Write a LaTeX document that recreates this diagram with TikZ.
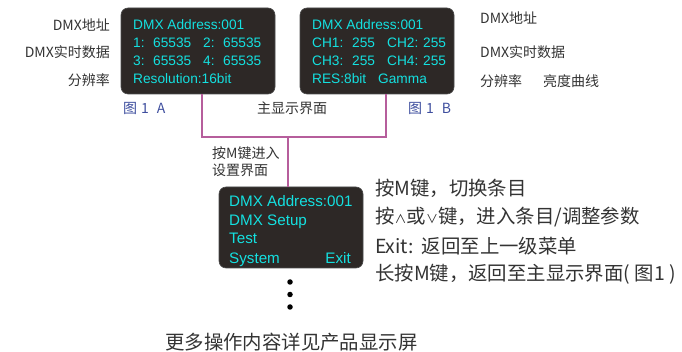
\documentclass[tikz,border=0pt]{standalone}
\usepackage{fontspec}
\setmainfont{Liberation Sans}
\newfontfamily\cjk{Noto Sans CJK SC}
\definecolor{lcd}{HTML}{2D2826}
\definecolor{lcdtext}{HTML}{14E0E0}
\definecolor{pinkline}{HTML}{B65E9C}
\definecolor{labgray}{HTML}{333333}
\definecolor{figblue}{HTML}{3E4E9E}
\newcommand{\smallop}[1]{{\fontsize{12}{12}\selectfont #1}}
\begin{document}
\begin{tikzpicture}[x=1pt,y=-1pt,
  lcdbox/.style={draw=gray!60!black,line width=0.6pt,fill=lcd,rounded corners=7pt,inner sep=0pt},
  lcdA/.style={text=lcdtext,inner sep=0pt,anchor=base west,font=\fontsize{13.7}{14}\selectfont},
  lcdC/.style={text=lcdtext,inner sep=0pt,anchor=base west,font=\fontsize{15.2}{16}\selectfont},
  lab/.style={text=labgray,inner sep=0pt,font=\cjk\fontsize{14}{15}\selectfont},
  figlab/.style={text=figblue,inner sep=0pt,font=\cjk\fontsize{14}{15}\selectfont},
  note/.style={text=labgray,inner sep=0pt,anchor=west,font=\cjk\fontsize{19.4}{20}\selectfont},
  conn/.style={draw=pinkline,line width=1.4pt},
  dot/.style={circle,fill=black,inner sep=0pt,minimum size=5.5pt}]
\useasboundingbox (0,0) rectangle (682,352);

% boxes
\node[lcdbox,minimum width=154pt,minimum height=86pt] (boxA) at (198,51) {};
\node[lcdbox,minimum width=154pt,minimum height=86pt] (boxB) at (377,51) {};
\node[lcdbox,minimum width=144pt,minimum height=81pt] (boxC) at (291,227.5) {};

% box A text
\node[lcdA] (a1) at (133,30) {DMX Address:001};
\node[lcdA] (a2a) at (133,48) {1:};
\node[lcdA] (a2b) at (153,48) {65535};
\node[lcdA] (a2c) at (203,48) {2:};
\node[lcdA] (a2d) at (223,48) {65535};
\node[lcdA] (a3a) at (133,66) {3:};
\node[lcdA] (a3b) at (153,66) {65535};
\node[lcdA] (a3c) at (203,66) {4:};
\node[lcdA] (a3d) at (223,66) {65535};
\node[lcdA] (a4) at (133,84) {Resolution:16bit};

% box B text
\node[lcdA] (b1) at (312,30) {DMX Address:001};
\node[lcdA] (b2a) at (312,48) {CH1:};
\node[lcdA] (b2b) at (352,48) {255};
\node[lcdA] (b2c) at (387,48) {CH2:};
\node[lcdA] (b2d) at (423,48) {255};
\node[lcdA] (b3a) at (312,66) {CH3:};
\node[lcdA] (b3b) at (352,66) {255};
\node[lcdA] (b3c) at (387,66) {CH4:};
\node[lcdA] (b3d) at (423,66) {255};
\node[lcdA] (b4a) at (312,84) {RES:8bit};
\node[lcdA] (b4b) at (378,84) {Gamma};

% box C text
\node[lcdC] (c1) at (229,206.5) {DMX Address:001};
\node[lcdC] (c2) at (229,225.5) {DMX Setup};
\node[lcdC] (c3) at (229,243.5) {Test};
\node[lcdC] (c4) at (229,263.5) {System};
\node[lcdC,anchor=base east] (c5) at (351,263.5) {Exit};

% left labels
\node[lab,anchor=east] (l1) at (110,25) {DMX地址};
\node[lab,anchor=east] (l2) at (110,52) {DMX实时数据};
\node[lab,anchor=east] (l3) at (110,80) {分辨率};
% right labels
\node[lab,anchor=west] (r1) at (480,18) {DMX地址};
\node[lab,anchor=west] (r2) at (480,52) {DMX实时数据};
\node[lab,anchor=west] (r3) at (480,81) {分辨率};
\node[lab,anchor=west] (r4) at (543,81) {亮度曲线};

% figure labels
\node[figlab,anchor=west] (fa) at (123,108) {图\hspace{4pt}1\hspace{8pt}A};
\node[figlab,anchor=west] (fb) at (408,108) {图\hspace{4pt}1\hspace{8pt}B};
\node[lab,anchor=west] (main) at (257,108) {主显示界面};

% connectors
\coordinate (jA) at (202,137);
\coordinate (jB) at (386,137);
\coordinate (jM) at (288,137);
\draw[conn] (boxA.south -| jA) -- (jA) -- (jB) -- (boxB.south -| jB);
\draw[conn] (jM) -- (boxC.north -| jM);

\node[lab,anchor=west] (e1) at (212,153) {按M键进入};
\node[lab,anchor=west] (e2) at (212,170) {设置界面};

% dots
\node[dot] (d1) at (290,282) {};
\node[dot] (d2) at (290,294.5) {};
\node[dot] (d3) at (290,307) {};

% notes
\node[note] (n1) at (375,188) {按M键，切换条目};
\node[note] (n2) at (375,217) {按\smallop{∧}或\smallop{∨}键，进入条目/调整参数};
\node[note] (n3) at (375,246) {Exit:\hspace{8pt}返回至上一级菜单};
\node[note] (n4) at (375,274) {长按M键，返回至主显示界面(\ 图1\ )};
\node[note] (n5) at (165,342) {更多操作内容详见产品显示屏};
\end{tikzpicture}
\end{document}
